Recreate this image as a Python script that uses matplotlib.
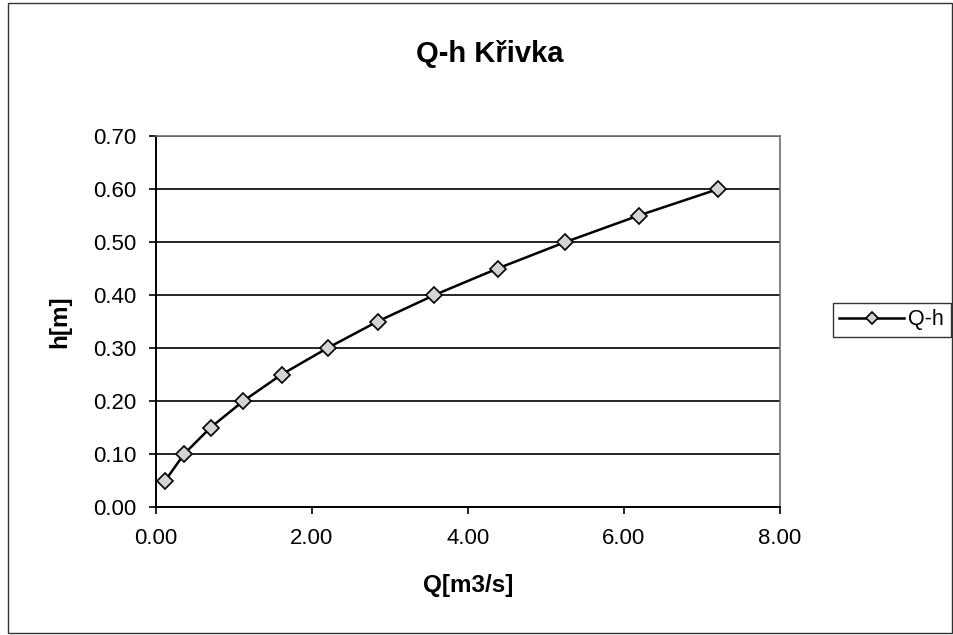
import numpy as np
import matplotlib.pyplot as plt
from matplotlib.patches import Rectangle

plt.rcParams['font.family'] = ['Liberation Sans', 'DejaVu Sans']

# values
q_vals = [0.12, 0.36, 0.70, 1.12, 1.61, 2.20, 2.84, 3.57, 4.38, 5.25, 6.19, 7.21]
h_vals = [0.05, 0.10, 0.15, 0.20, 0.25, 0.30, 0.35, 0.40, 0.45, 0.50, 0.55, 0.60]
x_ticks = [0, 2, 4, 6, 8]
y_ticks = [0.0, 0.1, 0.2, 0.3, 0.4, 0.5, 0.6, 0.7]

fig = plt.figure(figsize=(9.54, 6.35), dpi=100)
ax = fig.add_axes([156/954, 1 - 507/635, (780 - 156)/954, (507 - 136)/635])

# outer chart border
fig.patches.append(Rectangle((8/954, 2/635), 944/954, 630/635, transform=fig.transFigure,
                             fill=False, edgecolor='#333333', lw=1.0))

ax.plot(q_vals, h_vals, color='black', lw=1.8, marker='D', markersize=8,
        markerfacecolor='#d4d4d4', markeredgecolor='black', markeredgewidth=1.2,
        label='Q-h', zorder=3)

ax.set_xlim(0, 8)
ax.set_ylim(0, 0.7)
ax.set_xticks(x_ticks)
ax.set_yticks(y_ticks)
ax.set_xticklabels([f"{v:.2f}" for v in x_ticks], fontsize=16)
ax.set_yticklabels([f"{v:.2f}" for v in y_ticks], fontsize=16)
ax.tick_params(axis='both', direction='out', length=5, width=1.2)
ax.tick_params(axis='y', pad=9)
ax.tick_params(axis='x', pad=10)
ax.yaxis.grid(True, color='black', lw=1.2)
ax.set_axisbelow(True)

for s in ['left', 'bottom']:
    ax.spines[s].set_color('black')
    ax.spines[s].set_linewidth(1.4)
for s in ['top', 'right']:
    ax.spines[s].set_color('#707070')
    ax.spines[s].set_linewidth(1.2)

ax.set_xlabel('Q[m3/s]', fontsize=17.5, fontweight='bold', labelpad=18)
ax.set_ylabel('h[m]', fontsize=17.5, fontweight='bold', labelpad=16)

fig.text(490/954, 1 - 54/635, 'Q-h Křivka', fontsize=21, fontweight='bold',
         ha='center', va='center')

leg = ax.legend(loc='center left', bbox_to_anchor=(833/954, 1 - 320/635),
                bbox_transform=fig.transFigure, fontsize=15.5, frameon=True,
                fancybox=False, handlelength=3.0, handletextpad=0.2,
                borderpad=0.3, borderaxespad=0, markerscale=0.8)
leg.get_frame().set_edgecolor('black')
leg.get_frame().set_linewidth(1.0)

fig.savefig('out.png', dpi=100)
